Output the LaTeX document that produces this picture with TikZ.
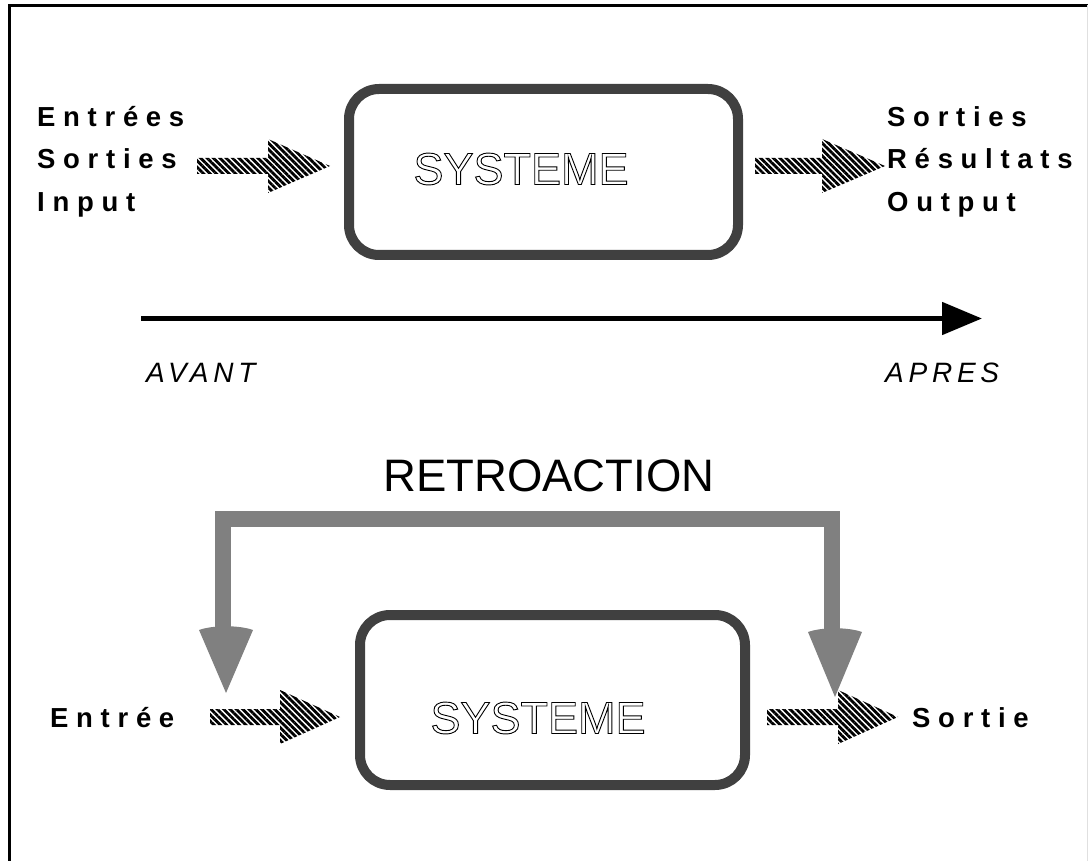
\documentclass[tikz,border=0pt]{standalone}
\usepackage{fontspec}
\setmainfont{Liberation Sans}
\newfontfamily\spacedfont[LetterSpace=28]{Liberation Sans}
\newfontfamily\slightfont[LetterSpace=17]{Liberation Sans}
\usetikzlibrary{arrows.meta,patterns.meta}

% outlined (hollow) lettering through a PDF text render mode
\newcommand\hollowtext[1]{\special{pdf:literal direct 1 Tr 0.9 w}#1\special{pdf:literal direct 0 Tr}}

\definecolor{boxgray}{HTML}{404040}
\definecolor{loopgray}{HTML}{808080}

\tikzset{
  io/.style={anchor=base west, inner sep=0pt, font=\spacedfont\bfseries\fontsize{27.5}{32}\selectfont},
  timelbl/.style={anchor=base west, inner sep=0pt, font=\slightfont\itshape\fontsize{28}{33}\selectfont},
  sysbox/.style={draw=boxgray, line width=10pt, rounded corners=30pt},
  systxt/.style={inner sep=0pt, font=\fontsize{45}{50}\selectfont},
  hatch/.style={pattern={Lines[angle=-45,distance=4.5pt,line width=2.8pt]}, pattern color=black},
  loop/.style={draw=loopgray, line width=16pt, miter limit=10},
  loophead/.style={fill=loopgray},
}

% block arrow with striped fill: start x, head back x, tip x, centre y
\newcommand\stripearrow[4]{%
  \path[hatch] (#1,#4-8) -- (#2,#4-8) -- (#2,#4-27) -- (#3,#4)
    -- (#2,#4+27) -- (#2,#4+8) -- (#1,#4+8) -- cycle;}

\begin{document}
\begin{tikzpicture}[x=1pt,y=-1pt]
\useasboundingbox (0,0) rectangle (1088,861);
% outer frame
\draw[line width=3pt] (9,870) -- (9,5.5) -- (1089,5.5);
\draw[line width=1pt, black!12] (1087.5,5.5) -- (1087.5,861);

% ---------- upper system ----------
\draw[sysbox] (349,89) rectangle (738,255);
\node[systxt] (sys1) at (521,169) {\hollowtext{SYSTEME}};

\node[io] (in1)  at (37,127) {Entrées};
\node[io] (in2)  at (37,169) {Sorties};
\node[io] (in3)  at (37,212) {Input};
\node[io] (out1) at (887,127) {Sorties};
\node[io] (out2) at (887,169) {Résultats};
\node[io] (out3) at (887,212) {Output};

\stripearrow{197}{268}{330}{166}
\stripearrow{755}{822}{885}{166}

% time axis
\coordinate (t0) at (141,318.5);
\coordinate (t1) at (982,318.5);
\draw[line width=5pt, -{Triangle[length=40pt,width=32pt]}] (t0) -- (t1);
\node[timelbl] (avant) at (146,382) {AVANT};
\node[timelbl] (apres) at (885,382) {APRES};

% ---------- feedback ----------
\node[anchor=base west, inner sep=0pt, font=\fontsize{45.5}{50}\selectfont] (retro) at (383,491) {RETROACTION};

\coordinate (fbL) at (223,632);
\coordinate (fbR) at (832,634);
\draw[loop] (fbL) -- (223,519) -- (832,519) -- (fbR);
\path[loophead] (199,630) .. controls (213,625) and (239,625) .. (253,630) -- (226,693) -- cycle;
\path[loophead] (808,632) .. controls (822,627) and (848,627) .. (862,632) -- (835,697) -- cycle;

% ---------- lower system ----------
\draw[sysbox] (360,615) rectangle (745,785);
\node[systxt] (sys2) at (538,718) {\hollowtext{SYSTEME}};

\node[io] (ein) at (50,727) {Entrée};
\node[io] (sout) at (912,727) {Sortie};

\stripearrow{210}{280}{340}{717}
\stripearrow{767}{838}{898}{717}
\end{tikzpicture}
\end{document}
